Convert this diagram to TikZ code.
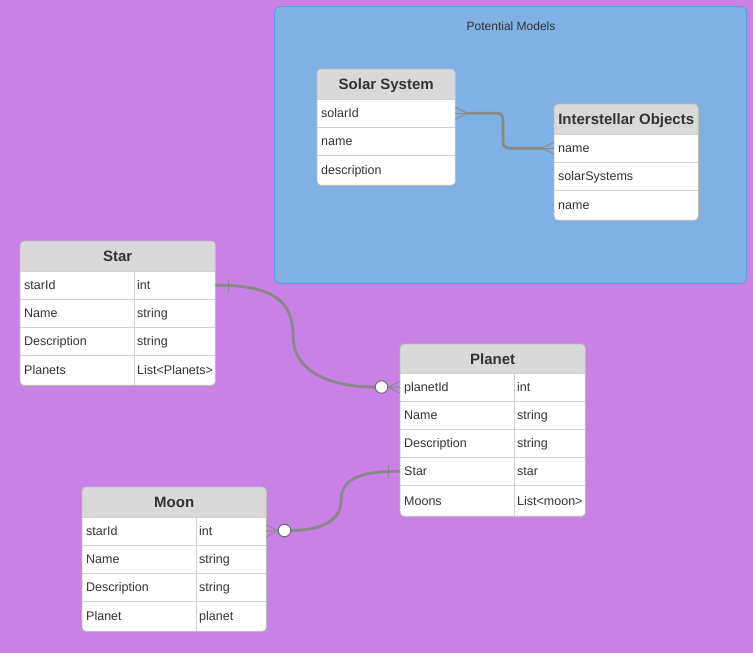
\documentclass[tikz,border=0pt]{standalone}
\usepackage{fontspec}
\setmainfont{Liberation Sans}
\definecolor{canvas}{HTML}{C981E6}
\definecolor{groupfill}{HTML}{80B1E5}
\definecolor{groupline}{HTML}{5B9CE6}
\definecolor{hdrfill}{HTML}{D9D9D9}
\definecolor{frameline}{HTML}{BDBDBD}
\definecolor{sepline}{HTML}{D2D2D2}
\definecolor{txt}{HTML}{333333}
\definecolor{linkgray}{HTML}{898989}
\newcommand\rowfont{\fontsize{12.5}{14}\selectfont}
\newcommand\hdrfont{\fontsize{15}{17}\selectfont\bfseries}
\begin{document}
\begin{tikzpicture}[x=1pt,y=-1pt,
  frame/.style={anchor=north west,rectangle,rounded corners=4pt,fill=white,inner sep=0pt},
  header/.style={anchor=north west,rectangle,inner sep=0pt,font=\hdrfont,text=txt,
    text height=12pt,text depth=0.6pt},
  cell/.style={anchor=north west,rectangle,inner xsep=4pt,inner ysep=0pt,
    minimum height=28pt,align=left,font=\rowfont,text=txt,text height=10pt,text depth=1pt},
  tcell/.style={cell,inner xsep=3pt},
  sep/.style={draw=sepline,line width=0.9pt},
  border/.style={draw=frameline,line width=0.9pt,rounded corners=4pt},
  link/.style={draw=linkgray,line width=2.8pt},
  foot/.style={draw=linkgray,line width=0.9pt},
  bar/.style={draw=linkgray,line width=1pt},
  opt/.style={circle,fill=white,draw=linkgray!80!black,line width=0.9pt,minimum size=12.5pt,inner sep=0pt}
]
\fill[canvas] (0,0) rectangle (753,653);
\useasboundingbox (0,0) rectangle (753,653);

% group box
\node[anchor=north west,rectangle,rounded corners=5pt,fill=groupfill,draw=groupline,
  line width=1pt,minimum width=472pt,minimum height=277pt,inner sep=0pt] (group) at (274,6) {};
\node[font=\fontsize{12}{14}\selectfont,text=txt] (grouptitle) at (511,26) {Potential Models};

% ---------- Solar System ----------
\node[frame,minimum width=138pt,minimum height=116pt] (solar) at (317,69) {};
\fill[hdrfill,rounded corners=4pt] (317,99) -- (317,69) -- (455,69) -- (455,99) -- cycle;
\fill[hdrfill] (317,84) rectangle (455,99);
\node[header,minimum width=138pt,minimum height=30pt] (solar-h) at (317,69) {Solar System};
\node[cell,text width=130pt] (solar-1) at (317,99) {solarId};
\node[cell,text width=130pt] (solar-2) at (317,127) {name};
\node[cell,text width=130pt,minimum height=30pt] (solar-3) at (317,155) {description};
\draw[sep] (solar-h.south west) -- (solar-h.south east);
\draw[sep] (solar-1.south west) -- (solar-1.south east);
\draw[sep] (solar-2.south west) -- (solar-2.south east);
\draw[border] (solar.north west) rectangle (solar.south east);

% ---------- Interstellar Objects ----------
\node[frame,minimum width=144pt,minimum height=116pt] (inter) at (554,104) {};
\fill[hdrfill,rounded corners=4pt] (554,134) -- (554,104) -- (698,104) -- (698,134) -- cycle;
\fill[hdrfill] (554,119) rectangle (698,134);
\node[header,minimum width=144pt,minimum height=30pt] (inter-h) at (554,104) {Interstellar Objects};
\node[cell,text width=136pt] (inter-1) at (554,134) {name};
\node[cell,text width=136pt] (inter-2) at (554,162) {solarSystems};
\node[cell,text width=136pt,minimum height=30pt] (inter-3) at (554,190) {name};
\draw[sep] (inter-h.south west) -- (inter-h.south east);
\draw[sep] (inter-1.south west) -- (inter-1.south east);
\draw[sep] (inter-2.south west) -- (inter-2.south east);
\draw[border] (inter.north west) rectangle (inter.south east);

% ---------- Star ----------
\node[frame,minimum width=195pt,minimum height=144pt] (star) at (20,241) {};
\fill[hdrfill,rounded corners=4pt] (20,271) -- (20,241) -- (215,241) -- (215,271) -- cycle;
\fill[hdrfill] (20,256) rectangle (215,271);
\node[header,minimum width=195pt,minimum height=30pt] (star-h) at (20,241) {Star};
\foreach \i/\k/\t/\y in {1/starId/int/271,2/Name/string/299,3/Description/string/327} {
  \node[cell,text width=106pt] (star-\i) at (20,\y) {\k};
  \node[tcell,text width=75pt] (star-\i t) at (134,\y) {\t};
  \draw[sep] (star-\i.south west) -- (star-\i t.south east);
}
\node[cell,text width=106pt,minimum height=30pt] (star-4) at (20,355) {Planets};
\node[tcell,text width=75pt,minimum height=30pt] (star-4t) at (134,355) {List<Planets>};
\draw[sep] (star-h.south west) -- (star-h.south east);
\draw[sep] (star-1t.north west) -- (star-4t.south west);
\draw[border] (star.north west) rectangle (star.south east);

% ---------- Planet ----------
\node[frame,minimum width=185pt,minimum height=172pt] (planet) at (400,344) {};
\fill[hdrfill,rounded corners=4pt] (400,373) -- (400,344) -- (585,344) -- (585,373) -- cycle;
\fill[hdrfill] (400,359) rectangle (585,373);
\node[header,minimum width=185pt,minimum height=29pt] (planet-h) at (400,344) {Planet};
\foreach \i/\k/\t/\y in {1/planetId/int/373,2/Name/string/401,3/Description/string/429,4/Star/star/457} {
  \node[cell,text width=106pt] (planet-\i) at (400,\y) {\k};
  \node[tcell,text width=65pt] (planet-\i t) at (514,\y) {\t};
  \draw[sep] (planet-\i.south west) -- (planet-\i t.south east);
}
\node[cell,text width=106pt,minimum height=31pt] (planet-5) at (400,485) {Moons};
\node[tcell,text width=65pt,minimum height=31pt] (planet-5t) at (514,485) {List<moon>};
\draw[sep] (planet-h.south west) -- (planet-h.south east);
\draw[sep] (planet-1t.north west) -- (planet-5t.south west);
\draw[border] (planet.north west) rectangle (planet.south east);

% ---------- Moon ----------
\node[frame,minimum width=184pt,minimum height=144pt] (moon) at (82,487) {};
\fill[hdrfill,rounded corners=4pt] (82,517) -- (82,487) -- (266,487) -- (266,517) -- cycle;
\fill[hdrfill] (82,502) rectangle (266,517);
\node[header,minimum width=184pt,minimum height=30pt] (moon-h) at (82,487) {Moon};
\foreach \i/\k/\t/\y in {1/starId/int/517,2/Name/string/545,3/Description/string/573} {
  \node[cell,text width=106pt] (moon-\i) at (82,\y) {\k};
  \node[tcell,text width=64pt] (moon-\i t) at (196,\y) {\t};
  \draw[sep] (moon-\i.south west) -- (moon-\i t.south east);
}
\node[cell,text width=106pt,minimum height=30pt] (moon-4) at (82,601) {Planet};
\node[tcell,text width=64pt,minimum height=30pt] (moon-4t) at (196,601) {planet};
\draw[sep] (moon-h.south west) -- (moon-h.south east);
\draw[sep] (moon-1t.north west) -- (moon-4t.south west);
\draw[border] (moon.north west) rectangle (moon.south east);

% ---------- Star -> Planet ----------
\node[opt] (opt1) at (381.5,387) {};
\coordinate (bend1) at (293,336);
\draw[link] (star-1t.east) .. controls (272,285) and (293,300) .. (bend1)
  .. controls (293,374) and (335,387) .. (opt1.west);
\node[opt] at (opt1) {};
\draw[bar] ([xshift=13pt,yshift=6.5pt]star-1t.east) -- ([xshift=13pt,yshift=-6.5pt]star-1t.east);
\draw[foot] (opt1.east) -- ([yshift=6pt]planet-1.west);
\draw[foot] (opt1.east) -- (planet-1.west);
\draw[foot] (opt1.east) -- ([yshift=-6pt]planet-1.west);

% ---------- Planet -> Moon ----------
\node[opt] (opt2) at (284.5,530.5) {};
\coordinate (bend2) at (341,501);
\draw[link] (planet-4.west) .. controls (358,471) and (341,480) .. (bend2)
  .. controls (341,522) and (318,530.5) .. (opt2.east);
\node[opt] at (opt2) {};
\draw[bar] ([xshift=-12pt,yshift=6.5pt]planet-4.west) -- ([xshift=-12pt,yshift=-6.5pt]planet-4.west);
\draw[foot] (opt2.west) -- ([yshift=6pt]moon-1t.east);
\draw[foot] (opt2.west) -- (moon-1t.east);
\draw[foot] (opt2.west) -- ([yshift=-6pt]moon-1t.east);

% ---------- Solar System -> Interstellar Objects ----------
\coordinate (solarfoot) at ([xshift=12pt]solar-1.east);
\coordinate (interfoot) at ([xshift=-12pt]inter-1.west);
\coordinate (mid3) at (503,130);
\draw[link,rounded corners=6pt] (solarfoot) -| (mid3) |- (interfoot);
\draw[foot] (solarfoot) -- ([yshift=6pt]solar-1.east);
\draw[foot] (solarfoot) -- (solar-1.east);
\draw[foot] (solarfoot) -- ([yshift=-6pt]solar-1.east);
\draw[foot] (interfoot) -- ([yshift=6pt]inter-1.west);
\draw[foot] (interfoot) -- (inter-1.west);
\draw[foot] (interfoot) -- ([yshift=-6pt]inter-1.west);
\end{tikzpicture}
\end{document}
